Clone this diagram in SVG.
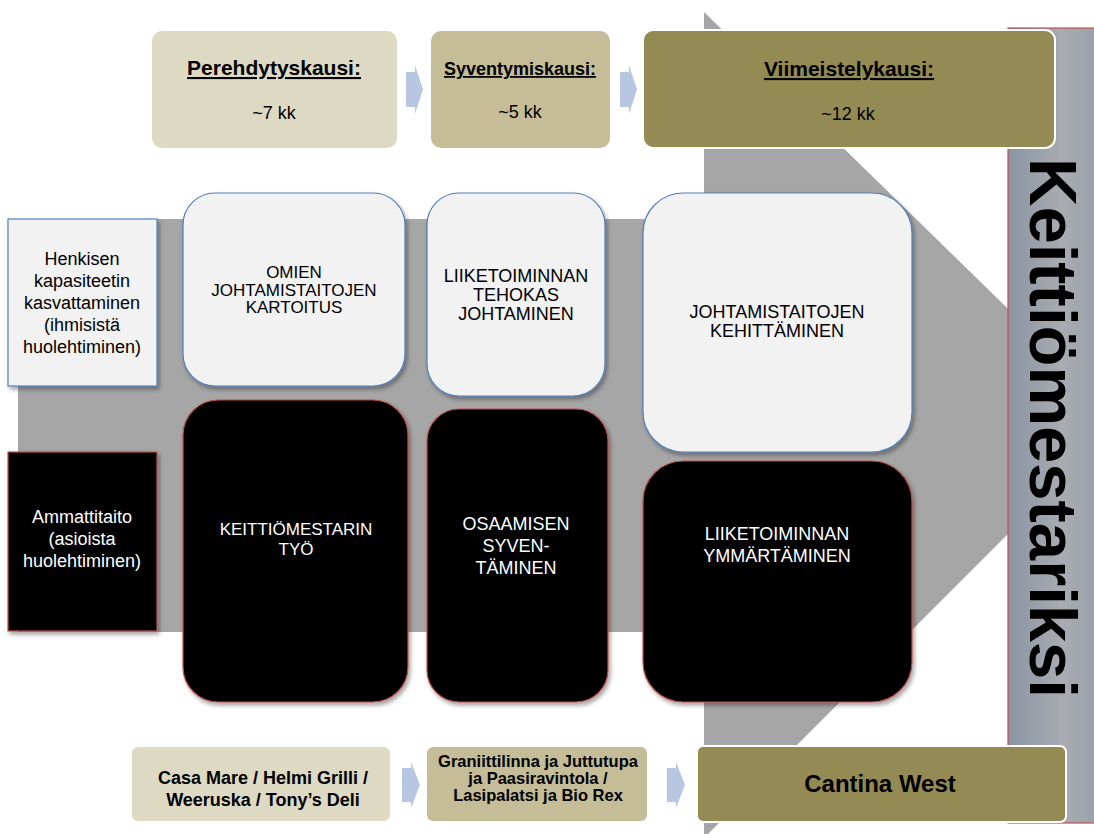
<svg xmlns="http://www.w3.org/2000/svg" width="1094" height="834" viewBox="0 0 1094 834">
<defs>
<filter id="sh" x="-10%" y="-10%" width="130%" height="130%">
<feDropShadow dx="2" dy="3" stdDeviation="2" flood-color="#000" flood-opacity="0.35"/>
</filter>
<linearGradient id="bar" x1="0" y1="0" x2="1" y2="0">
<stop offset="0" stop-color="#8A94A2"/>
<stop offset="0.6" stop-color="#A9ACB1"/>
<stop offset="1" stop-color="#9AA1AB"/>
</linearGradient>
<style>
text{font-family:"Liberation Sans",Arial,sans-serif;text-anchor:middle;fill:#000}
.light{fill:#F2F2F2;stroke:#4F81BD;stroke-width:1.2}
.dark{fill:#000;stroke:#C0504D;stroke-width:1.2}
.w{fill:#fff}
.hd{font-weight:bold;text-decoration:underline}
.b{font-weight:bold}
.chev{fill:#B7C7E1}
</style>
</defs>
<rect width="1094" height="834" fill="#fff"/>
<g id="big-arrow">
<polygon points="18,219 704,219 704,12 1122,420 704,838 704,632 18,632" fill="#A6A6A6"/>
</g>
<g id="goal-bar">
<rect x="1008" y="28" width="90" height="795" fill="url(#bar)" stroke="#C0504D" stroke-width="1.2"/>
<text transform="translate(1030,428) rotate(90)" class="b" font-size="67">Keittiömestariksi</text>
</g>
<g id="connectors">
<polygon class="chev" points="406,72 415,72 415,65 423,89.5 415,114 415,107 406,107"/>
<polygon class="chev" points="620,72 629,72 629,65 637,89.5 629,114 629,107 620,107"/>
<polygon class="chev" points="402,768 411,768 411,762 420,785 411,808 411,802 402,802"/>
<polygon class="chev" points="667,768 676,768 676,762 685,785 676,808 676,802 667,802"/>
</g>
<g id="phase1">
<rect x="152" y="31" width="245" height="117" rx="10" fill="#DDD9C3"/>
<text x="274" y="75" class="hd" font-size="21">Perehdytyskausi:</text>
<text x="274" y="119" font-size="18">~7 kk</text>
</g>
<g id="phase2">
<rect x="431" y="31" width="179" height="117" rx="10" fill="#C4BD97"/>
<text x="520" y="75" class="hd" font-size="18">Syventymiskausi:</text>
<text x="520" y="118" font-size="18">~5 kk</text>
</g>
<g id="phase3">
<rect x="643" y="30" width="412" height="118" rx="10" fill="#948A54" stroke="#fff" stroke-width="2"/>
<text x="849" y="76" class="hd" font-size="21">Viimeistelykausi:</text>
<text x="848" y="120" font-size="18">~12 kk</text>
</g>
<g id="row-henkinen">
<rect x="8" y="219" width="149" height="167" class="light" filter="url(#sh)"/>
<text font-size="18"><tspan x="82" y="265">Henkisen</tspan><tspan x="82" y="287">kapasiteetin</tspan><tspan x="82" y="309">kasvattaminen</tspan><tspan x="82" y="331">(ihmisistä</tspan><tspan x="82" y="353">huolehtiminen)</tspan></text>
</g>
<g id="row-ammatti">
<rect x="8" y="452" width="149" height="179" class="dark" filter="url(#sh)"/>
<text font-size="18" class="w"><tspan x="82" y="523">Ammattitaito</tspan><tspan x="82" y="545">(asioista</tspan><tspan x="82" y="567">huolehtiminen)</tspan></text>
</g>
<g id="omien">
<rect x="183" y="193" width="222" height="193" rx="32" class="light" filter="url(#sh)"/>
<text font-size="17"><tspan x="294" y="278">OMIEN</tspan><tspan x="294" y="295.5">JOHTAMISTAITOJEN</tspan><tspan x="294" y="313">KARTOITUS</tspan></text>
</g>
<g id="liiketoiminnan-tehokas">
<rect x="427" y="193" width="178" height="203" rx="32" class="light" filter="url(#sh)"/>
<text font-size="18"><tspan x="516" y="282">LIIKETOIMINNAN</tspan><tspan x="516" y="301">TEHOKAS</tspan><tspan x="516" y="320">JOHTAMINEN</tspan></text>
</g>
<g id="johtamistaitojen-kehitt">
<rect x="643" y="193" width="269" height="259" rx="40" class="light" filter="url(#sh)"/>
<text font-size="18"><tspan x="777" y="318">JOHTAMISTAITOJEN</tspan><tspan x="777" y="337">KEHITTÄMINEN</tspan></text>
</g>
<g id="keittiomestarin-tyo">
<rect x="183" y="400" width="225" height="302" rx="35" class="dark" filter="url(#sh)"/>
<text font-size="17" class="w"><tspan x="296" y="535">KEITTIÖMESTARIN</tspan><tspan x="296" y="555">TYÖ</tspan></text>
</g>
<g id="osaamisen">
<rect x="427" y="409" width="181" height="293" rx="32" class="dark" filter="url(#sh)"/>
<text font-size="18" class="w"><tspan x="516" y="530">OSAAMISEN</tspan><tspan x="516" y="552">SYVEN-</tspan><tspan x="516" y="574">TÄMINEN</tspan></text>
</g>
<g id="liiketoiminnan-ymm">
<rect x="643" y="461" width="269" height="241" rx="40" class="dark" filter="url(#sh)"/>
<text font-size="18" class="w"><tspan x="777" y="540">LIIKETOIMINNAN</tspan><tspan x="777" y="562">YMMÄRTÄMINEN</tspan></text>
</g>
<g id="place1">
<rect x="132" y="747" width="258" height="74" rx="6" fill="#DDD9C3"/>
<text font-size="18" class="b"><tspan x="263" y="784">Casa Mare / Helmi Grilli /</tspan><tspan x="263" y="806">Weeruska / Tony’s Deli</tspan></text>
</g>
<g id="place2">
<rect x="427" y="747" width="220" height="74" rx="6" fill="#C4BD97"/>
<text font-size="16.5" class="b"><tspan x="538" y="767">Graniittilinna ja Juttutupa</tspan><tspan x="538" y="784">ja Paasiravintola /</tspan><tspan x="538" y="801">Lasipalatsi ja Bio Rex</tspan></text>
</g>
<g id="place3">
<rect x="697" y="746" width="369" height="76" rx="6" fill="#948A54" stroke="#fff" stroke-width="2"/>
<text x="880" y="792" font-size="24" class="b">Cantina West</text>
</g>
</svg>
